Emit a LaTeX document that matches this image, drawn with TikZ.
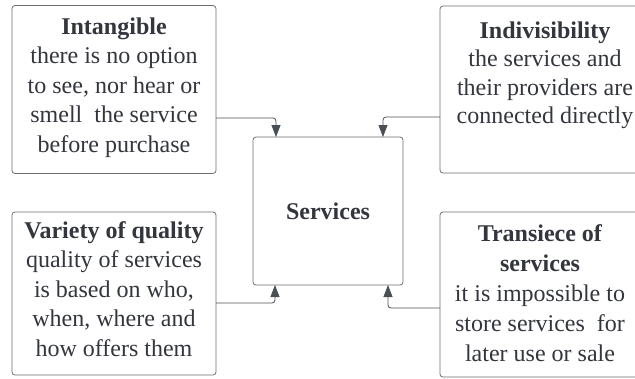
\documentclass[tikz,border=0pt]{standalone}
\usepackage{fontspec}
\setmainfont{Liberation Serif}
\usetikzlibrary{arrows.meta}

\definecolor{boxline}{HTML}{6E6E6E}
\definecolor{linkline}{HTML}{4A4E55}
\definecolor{inktext}{HTML}{33363D}

\begin{document}
\begin{tikzpicture}[
    x=1pt, y=-1pt,
    card/.style={draw=boxline, fill=white, rounded corners=3pt, line width=0.8pt, inner sep=0pt, outer sep=0pt},
    card text/.style={align=center, text=inktext, font=\fontsize{24}{29.5}\selectfont},
    link/.style={draw=linkline, line width=0.8pt, rounded corners=3pt, -{Triangle[length=12pt, width=9pt]}}
]

\useasboundingbox (0,0) rectangle (635,378);

% Centre
\node[card, minimum width=150pt, minimum height=148pt] (services) at (328,211) {};
\node[card text] (servicesT) at (services) {\textbf{Services}};

% Upper boxes
\node[card, minimum width=204pt, minimum height=168pt] (intangible) at (114,89.5) {};
\node[card text] (intangibleT) at (114,87.5) {\textbf{Intangible}\\there is no option\\to see, nor hear or\\smell\ \ the service\\before purchase};

\node[card, minimum width=210pt, minimum height=167pt] (indivisibility) at (545,89.5) {};
\node[card text, font=\fontsize{24}{28.5}\selectfont] (indivisibilityT) at (545,75.5) {\textbf{Indivisibility}\\the services and\\their providers are\\connected directly};

% Lower boxes
\node[card, minimum width=204pt, minimum height=163pt] (variety) at (114,293.5) {};
\node[card text] (varietyT) at (114,289) {\textbf{Variety of quality}\\quality of services\\is based on who,\\when, where and\\how offers them};

\node[card, minimum width=210pt, minimum height=165pt] (transiece) at (545,294.5) {};
\node[card text, font=\fontsize{24}{30}\selectfont] (transieceT) at (540,293) {\textbf{Transiece of}\\\textbf{services}\\it is impossible to\\store services\ \ for\\later use or sale};

% Connections
\draw[link] ([yshift=-28.5pt]intangible.east) -| ([xshift=23pt]services.north west);
\draw[link] ([yshift=-27.5pt]indivisibility.west) -| ([xshift=-20pt]services.north east);
\draw[link] ([yshift=-9.5pt]variety.east) -| ([xshift=22pt]services.south west);
\draw[link] ([yshift=-13.5pt]transiece.west) -| ([xshift=-15pt]services.south east);

\end{tikzpicture}
\end{document}
